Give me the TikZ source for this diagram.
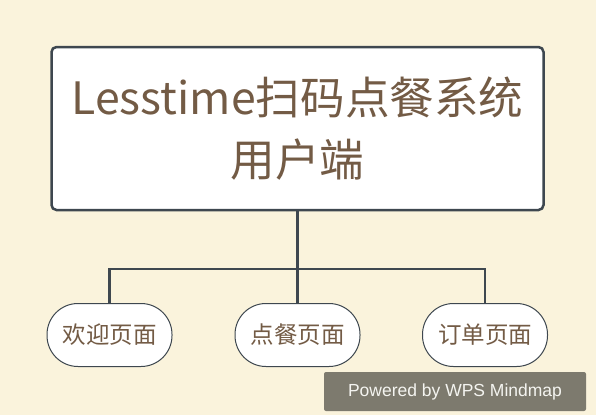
\documentclass[tikz,border=0pt]{standalone}
\usepackage{fontspec}
\setmainfont{Noto Sans CJK SC}
\newfontfamily\wmfont{Liberation Sans}
\definecolor{bgc}{HTML}{FAF3DC}
\definecolor{linec}{HTML}{3E474F}
\definecolor{txtc}{HTML}{735B45}
\definecolor{wmc}{HTML}{7D7A6E}
\definecolor{wmt}{HTML}{F4F4F0}
\begin{document}
\begin{tikzpicture}[x=1pt,y=-1pt,
  rootbox/.style={draw=linec, line width=2.5pt, fill=white, rounded corners=5pt,
    minimum width=492pt, minimum height=163pt, inner sep=0pt, align=center,
    text=txtc, font=\fontsize{44.6}{62}\selectfont},
  childbox/.style={draw=linec, line width=1pt, fill=white, rounded corners=31pt,
    minimum width=125pt, minimum height=63pt, inner sep=0pt,
    text=txtc, font=\fontsize{23.5}{28}\selectfont},
  conn/.style={draw=linec, line width=2.6pt},
]
\fill[bgc] (0,0) rectangle (596,415);
\useasboundingbox (0,0) rectangle (596,415);

\node[rootbox] (root) at (297.5,128.5) {Lesstime扫码点餐系统\\用户端};

\node[childbox] (c1) at (109.5,335) {欢迎页面};
\node[childbox] (c2) at (297.5,335) {点餐页面};
\node[childbox] (c3) at (485,335) {订单页面};

\coordinate (j) at (297.5,269);
\draw[conn] (root.south) -- (j);
\draw[conn] (c1.north) |- (j) -| (c3.north);
\draw[conn] (j) -- (c2.north);

\node[fill=wmc, rounded corners=2pt, minimum width=262pt, minimum height=39pt,
  inner sep=0pt, text=wmt, font=\wmfont\fontsize{17.5}{20}\selectfont]
  (wm) at (455,391.5) {Powered by WPS Mindmap};
\end{tikzpicture}
\end{document}
